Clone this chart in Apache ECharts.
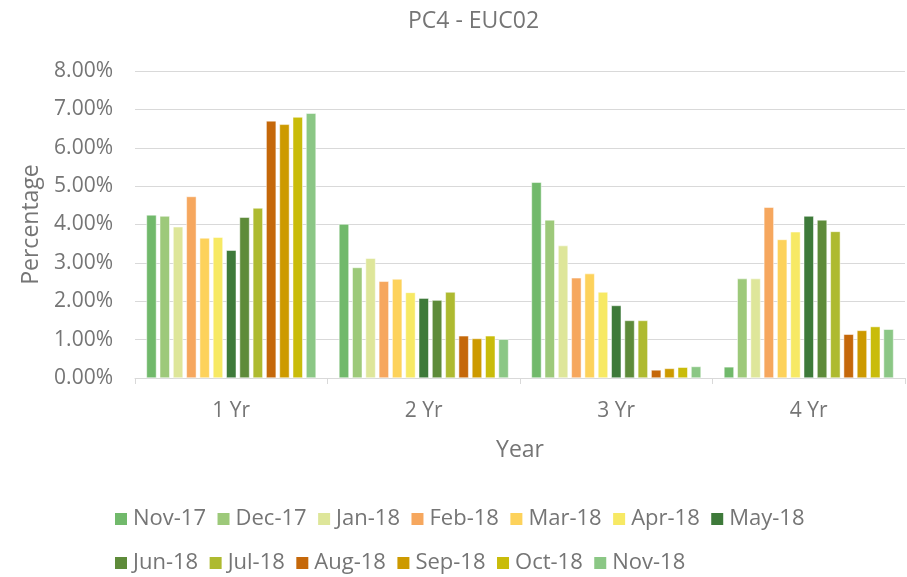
<!DOCTYPE html>
<html><head><meta charset="utf-8">
<script src="https://cdn.jsdelivr.net/npm/echarts@6/dist/echarts.min.js"></script>
<style>html,body{margin:0;padding:0;background:#fff}#c{width:907px;height:577px}</style>
</head><body><div id="c"></div>
<script>
const categories = ['1 Yr', '2 Yr', '3 Yr', '4 Yr'];
const seriesNames = ['Nov-17','Dec-17','Jan-18','Feb-18','Mar-18','Apr-18','May-18','Jun-18','Jul-18','Aug-18','Sep-18','Oct-18','Nov-18'];
const nov17 = [4.25, 4.01, 5.10, 0.29];
const dec17 = [4.22, 2.88, 4.12, 2.59];
const jan18 = [3.94, 3.12, 3.45, 2.59];
const feb18 = [4.73, 2.52, 2.61, 4.45];
const mar18 = [3.65, 2.58, 2.72, 3.61];
const apr18 = [3.67, 2.23, 2.24, 3.81];
const may18 = [3.33, 2.08, 1.89, 4.22];
const jun18 = [4.19, 2.03, 1.50, 4.12];
const jul18 = [4.43, 2.24, 1.50, 3.82];
const aug18 = [6.70, 1.10, 0.21, 1.14];
const sep18 = [6.61, 1.03, 0.25, 1.24];
const oct18 = [6.80, 1.10, 0.28, 1.34];
const nov18 = [6.90, 1.01, 0.30, 1.27];
const yTicks = [0, 1, 2, 3, 4, 5, 6, 7, 8];
const colors = ['#71B96B','#9DC97A','#DEE69A','#F6A75E','#FDD25B','#F7E964','#3E7A3A','#5E8B3A','#AEBA30','#C5680A','#CD9A00','#C9BC0A','#8BC785'];
const allData = [nov17,dec17,jan18,feb18,mar18,apr18,may18,jun18,jul18,aug18,sep18,oct18,nov18];

const font = 'Open Sans, sans-serif';
const txt = '#757575';
const chart = echarts.init(document.getElementById('c'));
const legendCommon = {
  left: 108, itemWidth: 14, itemHeight: 14, itemGap: 9.5, icon: 'rect',
  textStyle: { fontFamily: font, fontSize: 22, color: txt, width: 76, overflow: 'none' }
};
chart.setOption({
  animation: false,
  color: colors,
  title: { text: 'PC4 - EUC02', left: 403, top: 5, textStyle: { fontFamily: font, fontSize: 23, fontWeight: 'normal', color: txt } },
  legend: [
    Object.assign({}, legendCommon, { top: 503, data: seriesNames.slice(0, 7) }),
    Object.assign({}, legendCommon, { top: 547, data: seriesNames.slice(7) })
  ],
  grid: { left: 135, right: 2, top: 71, bottom: 199, containLabel: false },
  xAxis: {
    type: 'category', data: categories,
    name: 'Year', nameLocation: 'middle', nameGap: 61,
    nameTextStyle: { fontFamily: font, fontSize: 23, color: txt },
    axisLine: { lineStyle: { color: '#d9d9d9' } },
    axisTick: { show: true, length: 6, lineStyle: { color: '#d9d9d9' } },
    axisLabel: { fontFamily: font, fontSize: 21, color: txt, margin: 23 }
  },
  yAxis: {
    type: 'value', min: yTicks[0], max: yTicks[yTicks.length - 1], interval: 1,
    name: 'Percentage', nameLocation: 'middle', nameGap: 90,
    nameTextStyle: { fontFamily: font, fontSize: 23, color: txt },
    axisLine: { show: false }, axisTick: { show: false },
    splitLine: { lineStyle: { color: '#d9d9d9', width: 1 } },
    axisLabel: { fontFamily: font, fontSize: 21, color: txt, margin: 22, formatter: v => v.toFixed(2) + '%' }
  },
  series: seriesNames.map((n, i) => ({
    name: n, type: 'bar', data: allData[i], barWidth: 10, barGap: '33%',
    itemStyle: { color: colors[i], borderColor: '#fff', borderWidth: 0.5 }
  }))
});
</script></body></html>
